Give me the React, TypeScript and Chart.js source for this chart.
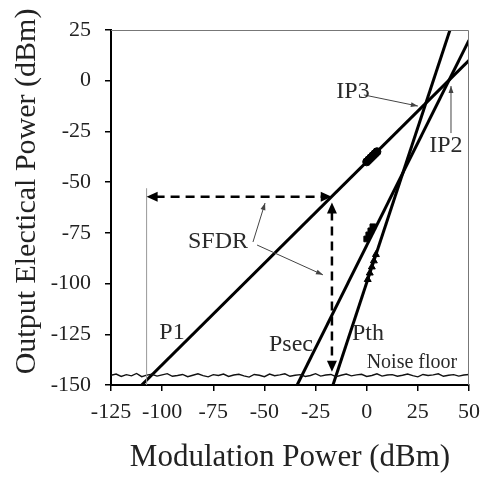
import React, { useEffect, useRef } from 'react';
import { Chart, registerables } from 'chart.js';

Chart.register(...registerables);

const FONT = "'Liberation Serif', 'Times New Roman', serif";

// Axis ranges
const X_MIN = -125;
const X_MAX = 50;
const Y_MIN = -150;
const Y_MAX = 25;
const STEP = 25;
const X_TITLE = 'Modulation Power (dBm)';
const Y_TITLE = 'Output Electical Power (dBm)';

// Fundamental, second-order and third-order lines
const P1_X = [-110, 50];
const P1_Y = [-150, 10];
const PSEC_X = [-34, 50];
const PSEC_Y = [-150, 20];
const PTH_X = [-16.5, 40.7];
const PTH_Y = [-150, 25];

// Measured markers
const P1_MARK_X = [0, 1, 2, 3, 4, 5];
const P1_MARK_Y = [-40, -39, -38, -37, -36, -35];
const PSEC_MARK_X = [0, 1, 2, 3];
const PSEC_MARK_Y = [-78, -76, -74, -72];
const PTH_MARK_X = [0.5, 1.5, 2.5, 3.5, 4.5];
const PTH_MARK_Y = [-98, -94.8, -91.8, -88.8, -85.7];

// Noise floor
const NOISE_X = [
  -125, -122.5, -120, -117.5, -115, -112.5, -110, -107.5, -105, -102.5,
  -100, -97.5, -95, -92.5, -90, -87.5, -85, -82.5, -80, -77.5,
  -75, -72.5, -70, -67.5, -65, -62.5, -60, -57.5, -55, -52.5,
  -50, -47.5, -45, -42.5, -40, -37.5, -35, -32.5, -30, -27.5,
  -25, -22.5, -20, -17.5, -15, -12.5, -10, -7.5, -5, -2.5,
  0, 2.5, 5, 7.5, 10, 12.5, 15, 17.5, 20, 22.5,
  25, 27.5, 30, 32.5, 35, 37.5, 40, 42.5, 45, 47.5, 50,
];
const NOISE_Y = [
  -145.2, -144.6, -145.8, -144.9, -145.5, -144.3, -145.9, -145.1, -144.7, -145.6,
  -145.0, -144.4, -145.7, -145.3, -144.8, -145.9, -145.2, -144.5, -145.4, -146.0,
  -144.9, -145.3, -144.6, -145.8, -145.1, -144.7, -145.5, -146.1, -144.8, -145.2,
  -145.9, -144.6, -145.4, -145.0, -144.5, -145.7, -145.2, -144.9, -145.8, -145.3,
  -144.4, -145.6, -145.1, -144.8, -145.9, -145.2, -144.6, -145.5, -145.0, -144.7,
  -145.8, -145.3, -144.5, -145.6, -145.1, -144.9, -145.7, -145.2, -144.6, -145.4,
  -146.0, -144.8, -145.3, -145.0, -144.5, -145.7, -145.2, -144.9, -145.6, -145.1, -144.8,
];

// Text labels (data coordinates of their centres)
const LABELS = ['SFDR', 'IP3', 'IP2', 'P1', 'Psec', 'Pth', 'Noise floor'];
const LABEL_X = [-72.7, -6.7, 38.7, -95.2, -37, 0.6, 22.1];
const LABEL_Y = [-79.5, -5.6, -32.2, -124.3, -130.2, -124.8, -139.1];
const LABEL_SIZE = [24, 24, 24, 24, 24, 24, 20];

// SFDR dashed double arrows: [x1, y1, x2, y2]
const SFDR_H = [-107.6, -57.2, -17.1, -57.2];
const SFDR_V = [-17, -60, -17, -143.5];
// Guide line at the low end of the SFDR
const GUIDE = [-107.6, -53, -107.6, -150];
// Thin pointer arrows: tail -> head
const POINTERS = [
  [-55.6, -79.5, -49.7, -60.3],
  [-53.6, -81, -21.4, -95.7],
  [-1.4, -7.0, 25.0, -12.5],
  [41.2, -25.8, 41.2, -2.6],
];

const pts = (xs: number[], ys: number[]) => xs.map((x, i) => ({ x, y: ys[i] }));

export default function App() {
  const ref = useRef<HTMLCanvasElement>(null);

  useEffect(() => {
    if (!ref.current) return;

    const head = (ctx: CanvasRenderingContext2D, x1: number, y1: number, x2: number, y2: number, len: number, wid: number) => {
      const a = Math.atan2(y2 - y1, x2 - x1);
      ctx.beginPath();
      ctx.moveTo(x2, y2);
      ctx.lineTo(x2 - len * Math.cos(a) + (wid / 2) * Math.sin(a), y2 - len * Math.sin(a) - (wid / 2) * Math.cos(a));
      ctx.lineTo(x2 - len * Math.cos(a) - (wid / 2) * Math.sin(a), y2 - len * Math.sin(a) + (wid / 2) * Math.cos(a));
      ctx.closePath();
      ctx.fill();
    };

    const annot = {
      id: 'annot',
      afterDatasetsDraw(chart: any) {
        const ctx: CanvasRenderingContext2D = chart.ctx;
        const xs = chart.scales.x;
        const ys = chart.scales.y;
        const px = (v: number) => xs.getPixelForValue(v);
        const py = (v: number) => ys.getPixelForValue(v);
        const { left, right, top, bottom } = chart.chartArea;
        ctx.save();

        // top / right frame
        ctx.strokeStyle = '#777';
        ctx.lineWidth = 1;
        ctx.beginPath();
        ctx.moveTo(left, top + 0.5);
        ctx.lineTo(right - 0.5, top + 0.5);
        ctx.lineTo(right - 0.5, bottom);
        ctx.stroke();

        // guide line
        ctx.strokeStyle = '#999';
        ctx.lineWidth = 1;
        ctx.beginPath();
        ctx.moveTo(px(GUIDE[0]), py(GUIDE[1]));
        ctx.lineTo(px(GUIDE[2]), py(GUIDE[3]));
        ctx.stroke();

        // dashed double arrows
        ctx.strokeStyle = '#000';
        ctx.fillStyle = '#000';
        ctx.lineWidth = 2.5;
        for (const a of [SFDR_H, SFDR_V]) {
          const x1 = px(a[0]), y1 = py(a[1]), x2 = px(a[2]), y2 = py(a[3]);
          const d = Math.hypot(x2 - x1, y2 - y1);
          const ux = (x2 - x1) / d, uy = (y2 - y1) / d;
          ctx.setLineDash([9, 6]);
          ctx.beginPath();
          ctx.moveTo(x1 + ux * 9, y1 + uy * 9);
          ctx.lineTo(x2 - ux * 9, y2 - uy * 9);
          ctx.stroke();
          ctx.setLineDash([]);
          head(ctx, x1, y1, x2, y2, 11, 10);
          head(ctx, x2, y2, x1, y1, 11, 10);
        }

        // thin pointers
        ctx.strokeStyle = '#444';
        ctx.fillStyle = '#444';
        ctx.lineWidth = 1;
        for (const a of POINTERS) {
          const x1 = px(a[0]), y1 = py(a[1]), x2 = px(a[2]), y2 = py(a[3]);
          ctx.beginPath();
          ctx.moveTo(x1, y1);
          ctx.lineTo(x2, y2);
          ctx.stroke();
          head(ctx, x1, y1, x2, y2, 7, 5);
        }

        // labels
        ctx.fillStyle = '#2a2a2a';
        ctx.textAlign = 'center';
        ctx.textBaseline = 'middle';
        LABELS.forEach((t, i) => {
          ctx.font = `${LABEL_SIZE[i]}px ${FONT}`;
          ctx.fillText(t, px(LABEL_X[i]), py(LABEL_Y[i]));
        });

        // y-axis title (sits a little above the plot centre, as in the original)
        ctx.save();
        ctx.translate(27, (top + bottom) / 2 - 16);
        ctx.rotate(-Math.PI / 2);
        ctx.font = `30px ${FONT}`;
        ctx.fillStyle = '#222';
        ctx.fillText(Y_TITLE, 0, 0);
        ctx.restore();
        ctx.restore();
      },
    };

    const lineDs = (label: string, xs: number[], ys: number[]) => ({
      label,
      data: pts(xs, ys),
      showLine: true,
      borderColor: '#000',
      borderWidth: 3,
      pointRadius: 0,
      tension: 0,
    });
    const markDs = (label: string, xs: number[], ys: number[], style: string) => ({
      label,
      data: pts(xs, ys),
      showLine: false,
      pointStyle: style,
      pointRadius: 4,
      backgroundColor: '#000',
      borderColor: '#000',
      borderWidth: 1,
    });

    const chart = new Chart(ref.current, {
      type: 'scatter',
      data: {
        datasets: [
          {
            label: 'Noise floor',
            data: pts(NOISE_X, NOISE_Y),
            showLine: true,
            borderColor: '#111',
            borderWidth: 1.4,
            pointRadius: 0,
            tension: 0,
          },
          lineDs('P1', P1_X, P1_Y),
          lineDs('Psec', PSEC_X, PSEC_Y),
          lineDs('Pth', PTH_X, PTH_Y),
          markDs('P1 meas', P1_MARK_X, P1_MARK_Y, 'circle'),
          markDs('Psec meas', PSEC_MARK_X, PSEC_MARK_Y, 'rect'),
          markDs('Pth meas', PTH_MARK_X, PTH_MARK_Y, 'triangle'),
        ] as any,
      },
      options: {
        responsive: false,
        animation: false,
        devicePixelRatio: 1,
        layout: { padding: { top: 30, right: 12, left: 0, bottom: 0 } },
        plugins: { legend: { display: false }, tooltip: { enabled: false } },
        scales: {
          x: {
            type: 'linear',
            min: X_MIN,
            max: X_MAX,
            afterFit: (s: any) => { s.height = 96; s.paddingLeft = 0; s.paddingRight = 0; },
            ticks: { stepSize: STEP, color: '#222', padding: 8, font: { family: FONT, size: 22 } },
            grid: { drawOnChartArea: false, drawTicks: true, tickLength: 6, color: '#000', lineWidth: 1.5 },
            border: { color: '#000', width: 2 },
            title: {
              display: true,
              text: X_TITLE,
              color: '#222',
              font: { family: FONT, size: 31 },
              padding: { top: 0, bottom: 5 },
            },
          },
          y: {
            type: 'linear',
            min: Y_MIN,
            max: Y_MAX,
            afterFit: (s: any) => { s.width = 111; s.paddingTop = 0; s.paddingBottom = 0; },
            ticks: { stepSize: STEP, color: '#222', padding: 14, font: { family: FONT, size: 22 } },
            grid: { drawOnChartArea: false, drawTicks: true, tickLength: 6, color: '#000', lineWidth: 1.5 },
            border: { color: '#000', width: 2 },
            title: { display: false },
          },
        },
      } as any,
      plugins: [annot],
    });
    return () => chart.destroy();
  }, []);

  return (
    <div style={{ position: 'absolute', left: 0, top: 0, width: 481, height: 481, background: '#fff' }}>
      <canvas ref={ref} width={481} height={481} style={{ display: 'block' }} />
    </div>
  );
}
